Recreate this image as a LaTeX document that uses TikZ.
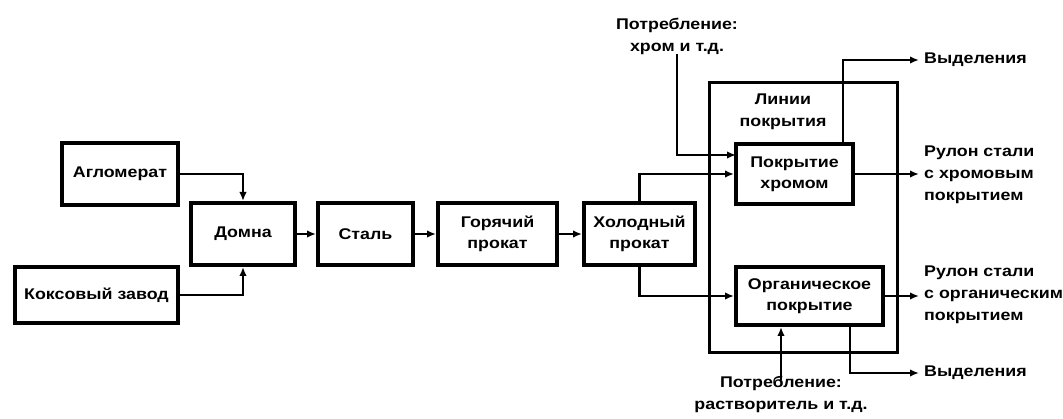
\documentclass[tikz,border=0pt]{standalone}
\usepackage{fontspec}
\setmainfont{Liberation Sans}[FakeStretch=1.15]
\usetikzlibrary{arrows.meta}
\begin{document}
\begin{tikzpicture}[x=1pt,y=-1pt,
  box/.style={draw,line width=4pt,rectangle,inner sep=0pt,align=center,font=\bfseries\fontsize{15.5}{21}\selectfont},
  lbl/.style={inner sep=0pt,align=left,font=\bfseries\fontsize{15.5}{22}\selectfont},
  clbl/.style={inner sep=0pt,align=center,font=\bfseries\fontsize{15.5}{22}\selectfont},
  conn/.style={line width=2.8pt},
  arr/.style={conn,-{Latex[length=9pt,width=7.5pt]}}]
\useasboundingbox (0,0) rectangle (1063,419);
% big container
\node[draw,line width=3pt,minimum width=188pt,minimum height=270pt,inner sep=0pt] (lines) at (803,218) {};
\node[clbl] (lineslbl) at (783,112) {Линии\\покрытия};
% boxes
\node[box,minimum width=116pt,minimum height=62pt] (aglo) at (120,174) {Агломерат};
\node[box,minimum width=163pt,minimum height=56pt] (koks) at (96.5,295) {Коксовый завод};
\node[box,minimum width=104pt,minimum height=62pt] (domna) at (243,234) {Домна};
\node[box,minimum width=95pt,minimum height=62pt] (stal) at (365.5,234) {Сталь};
\node[box,minimum width=119pt,minimum height=62pt] (gor) at (497.5,234) {Горячий\\прокат};
\node[box,minimum width=111pt,minimum height=62pt] (hol) at (639.5,234) {Холодный\\прокат};
\node[box,minimum width=117pt,minimum height=60pt] (chrom) at (794.5,174) {Покрытие\\хромом};
\node[box,minimum width=147pt,minimum height=58pt] (org) at (809.5,296) {Органическое\\покрытие};
% labels
\node[clbl] (p1) at (677,36) {Потребление:\\хром и т.д.};
\node[clbl] (p2) at (781,394) {Потребление:\\растворитель и т.д.};
\node[lbl,anchor=west] (v1) at (924,60) {Выделения};
\node[lbl,anchor=west] (v2) at (924,373) {Выделения};
\node[lbl,anchor=west] (r1) at (924,175) {Рулон стали\\с хромовым\\покрытием};
\node[lbl,anchor=west] (r2) at (924,295) {Рулон стали\\с органическим\\покрытием};
\coordinate (c1in) at (736,155);
\coordinate (vtop) at (843,144);
\coordinate (vbot) at (850,325);
% connectors
\draw[arr] (aglo.east) -| (domna.north);
\draw[arr] (koks.east) -| (domna.south);
\draw[arr] (domna) -- (stal);
\draw[arr] (stal) -- (gor);
\draw[arr] (gor) -- (hol);
\draw[arr] (hol.north) |- (chrom.west);
\draw[arr] (hol.south) |- (org.west);
\draw[arr] (p1.south) |- (c1in);
\draw[arr] (vtop) |- ([xshift=-5pt]v1.west);
\draw[arr] (chrom.east) -- ([xshift=-5pt]chrom.east -| r1.west);
\draw[arr] (org.east) -- ([xshift=-5pt]org.east -| r2.west);
\draw[arr] ([yshift=-4pt]p2.north) -- (p2.north |- org.south);
\draw[arr] (vbot) |- ([xshift=-5pt]v2.west);
\end{tikzpicture}
\end{document}
